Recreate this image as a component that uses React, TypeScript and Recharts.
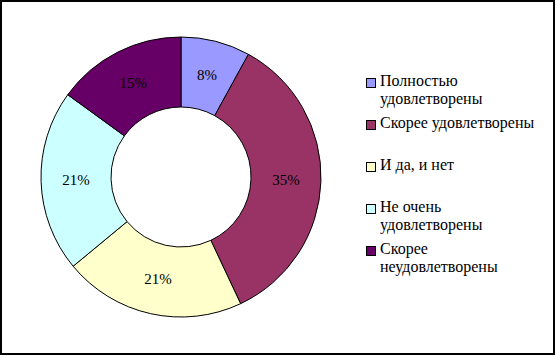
import { PieChart, Pie, Cell, Legend } from "recharts";

// категории (переносы строк как в легенде оригинала)
const CATEGORIES = [
  "Полностью\nудовлетворены",
  "Скорее удовлетворены",
  "И да, и нет",
  "Не очень\nудовлетворены",
  "Скорее\nнеудовлетворены",
];
const SHARES = [8, 35, 21, 21, 15];
const COLORS = ["#9999FF", "#993366", "#FFFFCC", "#CCFFFF", "#660066"];

const data = CATEGORIES.map((name, i) => ({ name, value: SHARES[i] }));

const FONT = "Liberation Serif, Tinos, DejaVu Serif, serif";
const RAD = Math.PI / 180;

function renderLabel(p: any) {
  const r = (p.innerRadius + p.outerRadius) / 2;
  const x = p.cx + r * Math.cos(-p.midAngle * RAD);
  const y = p.cy + r * Math.sin(-p.midAngle * RAD);
  return (
    <text x={x} y={y} textAnchor="middle" dominantBaseline="central" style={{ fontFamily: FONT }} fontSize={15} fill="#000">
      {`${p.value}%`}
    </text>
  );
}

function LegendBox() {
  return (
    <div style={{ fontFamily: FONT, fontSize: 16, lineHeight: "18px", color: "#000" }}>
      {data.map((d, i) => (
        <div key={i} style={{ height: 42, display: "flex", alignItems: "flex-start" }}>
          <span
            style={{
              display: "inline-block",
              width: 8,
              height: 8,
              marginTop: 6,
              marginRight: 4,
              background: COLORS[i],
              border: "1px solid #000",
              flex: "none",
            }}
          />
          <span style={{ whiteSpace: "pre-line" }}>{d.name}</span>
        </div>
      ))}
    </div>
  );
}

export default function App() {
  return (
    <>
      <style>{"body{margin:0}"}</style>
      <div
        style={{
          position: "relative",
          width: 555,
          height: 355,
          boxSizing: "border-box",
          border: "2px solid #000",
          background: "#fff",
          fontFamily: FONT,
        }}
      >
        <PieChart width={551} height={351} margin={{ top: 0, right: 0, bottom: 0, left: 0 }} style={{ fontFamily: FONT }}>
          <Pie
            data={data}
            dataKey="value"
            nameKey="name"
            cx={179}
            cy={175}
            innerRadius={70}
            outerRadius={140}
            startAngle={90}
            endAngle={-270}
            stroke="#000"
            strokeWidth={1}
            label={renderLabel}
            labelLine={false}
            isAnimationActive={false}
          >
            {data.map((_, i) => (
              <Cell key={i} fill={COLORS[i]} />
            ))}
          </Pie>
          <Legend
            layout="vertical"
            align="right"
            verticalAlign="top"
            content={() => <LegendBox />}
            wrapperStyle={{ left: 364, top: 70, width: 186, right: "auto" }}
          />
        </PieChart>
      </div>
    </>
  );
}
